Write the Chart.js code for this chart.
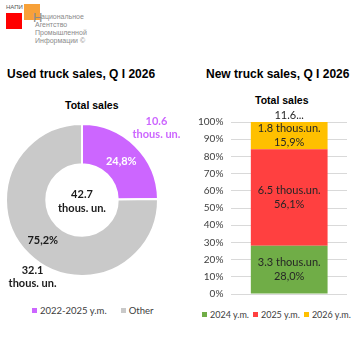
<!DOCTYPE html>
<html>
<head>
<meta charset="utf-8">
<script src="https://cdn.jsdelivr.net/npm/chart.js@4"></script>
<style>
  body { margin: 0; width: 353px; height: 353px; background: #fff; position: relative; overflow: hidden; font-family: "Liberation Sans", Arial, sans-serif; }
  .abs { position: absolute; }
  .title { font-weight: bold; font-size: 12px; color: #000; white-space: nowrap; }
  .sub { font-weight: bold; font-size: 10.5px; color: #000; white-space: nowrap; }
  .legend { font-family: Lato, sans-serif; color: #404040; white-space: nowrap; display: flex; align-items: center; }
  .legend span.box { display: inline-block; width: 5px; height: 5px; margin-right: 3px; }
  .legend span.item { display: inline-flex; align-items: center; }
  .logo-text { font-family: "Liberation Sans", Arial, sans-serif; font-size: 7px; line-height: 8px; color: #8a8a8a; }
</style>
</head>
<body>
<!-- логотип -->
<div class="abs" style="left:6px;top:4px;font-size:6px;color:#555;font-family:'Liberation Sans';">НАПИ</div>
<div class="abs" style="left:6px;top:13px;width:16px;height:16px;background:#ff0000;"></div>
<div class="abs" style="left:24px;top:4px;width:16px;height:16px;background:#f7a139;"></div>
<div class="abs" style="left:33px;top:10px;font-size:13px;color:#8a8a8a;font-family:'Liberation Sans';">Н</div>
<div class="abs logo-text" style="left:41px;top:13px;">ациональное</div>
<div class="abs logo-text" style="left:35px;top:21px;">Агентство<br>Промышленной<br>Информации ©</div>

<div class="abs title" style="left:7px;top:67px;">Used truck sales, Q I 2026</div>
<div class="abs title" style="left:206px;top:67px;">New truck sales, Q I 2026</div>
<div class="abs sub" style="left:65px;top:99px;">Total sales</div>
<div class="abs sub" style="left:255px;top:94px;">Total sales</div>

<canvas id="usedChart" class="abs" style="left:0;top:110px;" width="180" height="185"></canvas>
<canvas id="newChart" class="abs" style="left:190px;top:108px;" width="163" height="200"></canvas>

<div id="usedLegend" class="abs legend" style="left:32px;top:305px;font-size:9.5px;"></div>
<div id="newLegend" class="abs legend" style="left:202px;top:309px;font-size:9px;"></div>

<script>
// подержанные грузовики
const usedLabels = ['2022-2025 y.m.', 'Other'];
const usedShare = [24.8, 75.2];
const usedVolume = ['10.6', '32.1'];
const usedTotal = '42.7';
const usedColors = ['#cc66ff', '#c9c9c9'];

// новые грузовики
const newLabels = ['2024 y.m.', '2025 y.m.', '2026 y.m.'];
const newShare = [28.0, 56.1, 15.9];
const newVolume = ['3.3', '6.5', '1.8'];
const newTotal = '11.6...';
const newColors = ['#70ad47', '#ff4040', '#ffc000'];

function pct(v) { return v.toFixed(1).replace('.', ',') + '%'; }

const doughnutLabels = {
  id: 'doughnutLabels',
  afterDatasetsDraw(chart) {
    const ctx = chart.ctx;
    const arcs = chart.getDatasetMeta(0).data;
    ctx.save();
    ctx.textAlign = 'center';
    ctx.textBaseline = 'middle';
    ctx.font = 'bold 11px Lato';
    arcs.forEach((arc, i) => {
      const mid = (arc.startAngle + arc.endAngle) / 2;
      const r = (arc.innerRadius + arc.outerRadius) / 2;
      ctx.fillStyle = i === 0 ? '#ffffff' : '#1a1a1a';
      ctx.fillText(pct(usedShare[i]), arc.x + Math.cos(mid) * r, arc.y + Math.sin(mid) * r + 1);
      const ro = arc.outerRadius + 20;
      const ox = arc.x + Math.cos(mid) * ro + (i === 0 ? 7 : 18);
      const oy = arc.y + Math.sin(mid) * ro + (i === 0 ? -4 : 8);
      ctx.fillStyle = i === 0 ? '#cc66ff' : '#1a1a1a';
      ctx.fillText(usedVolume[i], ox, oy - 6);
      ctx.fillText('thous. un.', ox, oy + 7);
    });
    const c = arcs[0];
    ctx.fillStyle = '#1a1a1a';
    ctx.fillText(usedTotal, c.x, c.y - 6);
    ctx.fillText('thous. un.', c.x, c.y + 8);
    ctx.restore();
  }
};

new Chart(document.getElementById('usedChart'), {
  type: 'doughnut',
  data: {
    labels: usedLabels,
    datasets: [{
      data: usedShare,
      backgroundColor: usedColors,
      borderColor: '#ffffff',
      borderWidth: 2
    }]
  },
  options: {
    responsive: false,
    animation: false,
    cutout: '47%',
    layout: { padding: { left: 5, right: 21, top: 13, bottom: 18 } },
    plugins: { legend: { display: false }, tooltip: { enabled: false } }
  },
  plugins: [doughnutLabels]
});

const barLabels = {
  id: 'barLabels',
  afterDatasetsDraw(chart) {
    const ctx = chart.ctx;
    ctx.save();
    ctx.textAlign = 'center';
    ctx.textBaseline = 'middle';
    ctx.font = '11px Lato';
    ctx.fillStyle = '#262626';
    let topY = null, cx = null;
    chart.data.datasets.forEach((ds, i) => {
      const bar = chart.getDatasetMeta(i).data[0];
      const y = (bar.y + bar.base) / 2;
      ctx.fillText(newVolume[i] + ' thous.un.', bar.x, y - 7);
      ctx.fillText(pct(newShare[i]), bar.x, y + 7);
      topY = bar.y; cx = bar.x;
    });
    ctx.fillText(newTotal, cx, topY - 7);
    ctx.restore();
  }
};

new Chart(document.getElementById('newChart'), {
  type: 'bar',
  data: {
    labels: ['Total'],
    datasets: newLabels.map((l, i) => ({
      label: l,
      data: [newShare[i]],
      backgroundColor: newColors[i],
      barPercentage: 0.664,
      categoryPercentage: 1
    }))
  },
  options: {
    responsive: false,
    animation: false,
    layout: { padding: { top: 14, right: 6 } },
    scales: {
      x: { stacked: true, display: false },
      y: {
        stacked: true,
        min: 0, max: 100,
        ticks: { stepSize: 10, callback: v => v + '%', color: '#404040', font: { family: 'Lato', size: 10 }, padding: 8 },
        grid: { color: '#d9d9d9', drawTicks: false },
        border: { display: false }
      }
    },
    plugins: { legend: { display: false }, tooltip: { enabled: false } }
  },
  plugins: [barLabels]
});

function buildLegend(el, labels, colors, gap) {
  labels.forEach((l, i) => {
    const item = document.createElement('span');
    item.className = 'item';
    item.style.marginRight = gap + 'px';
    item.innerHTML = '<span class="box" style="background:' + colors[i] + '"></span>' + l;
    el.appendChild(item);
  });
}
buildLegend(document.getElementById('usedLegend'), usedLabels, usedColors, 14);
buildLegend(document.getElementById('newLegend'), newLabels, newColors, 4);
</script>
</body>
</html>
